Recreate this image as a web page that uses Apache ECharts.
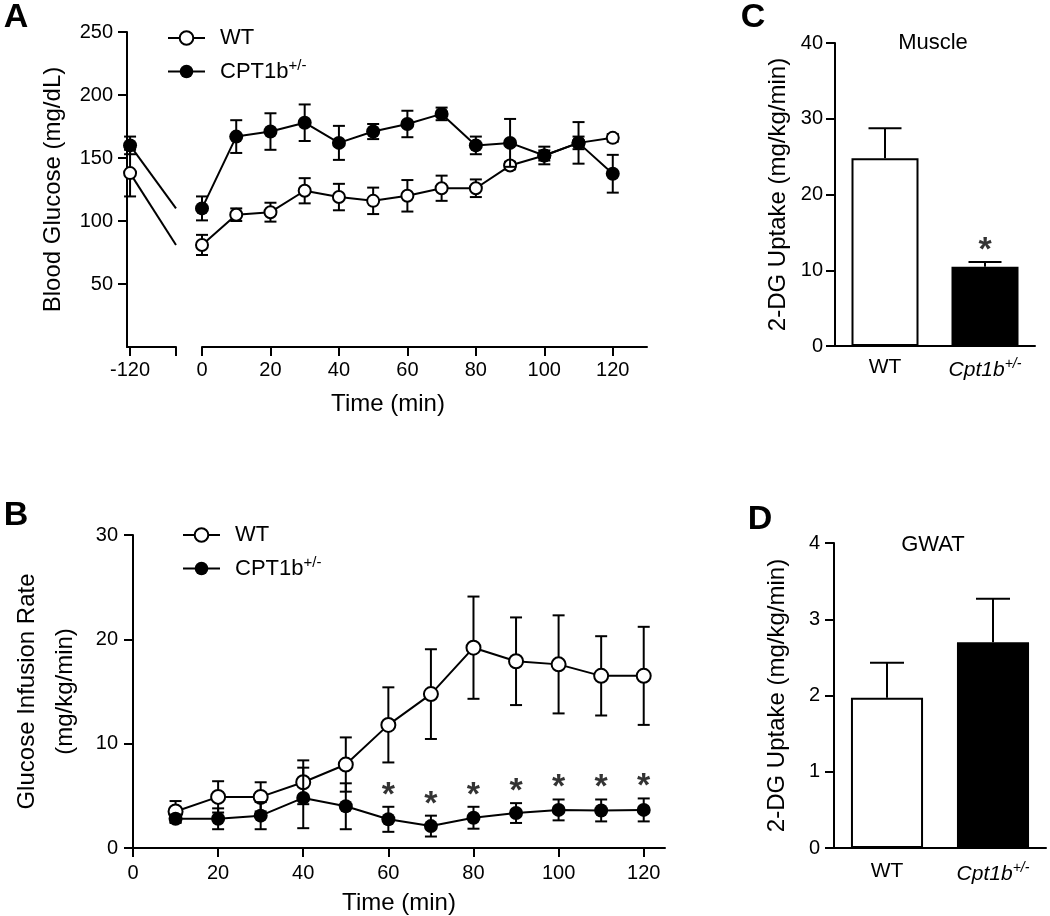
<!DOCTYPE html>
<html>
<head>
<meta charset="utf-8">
<script src="https://cdn.jsdelivr.net/npm/echarts@6/dist/echarts.min.js"></script>
<style>html,body{margin:0;padding:0;background:#fff}#c{width:1050px;height:916px}</style>
</head>
<body>
<div id="c"></div>
<script>
// ---------- Panel A: Blood glucose ----------
const timesA   = [-120, 0, 10, 20, 30, 40, 50, 60, 70, 80, 90, 100, 110, 120];
const wtA      = [138, 81, 105, 107, 124, 119, 116, 120, 126, 126, 144, 152, 162, 166];
const wtSemA   = [18.5, 8, 5, 7.5, 10, 10.5, 10.5, 12.5, 10, 7, 3, 4, 5, 3];
const cptA     = [160, 110, 167, 171, 178, 162, 171, 177, 185, 160, 162, 152, 162, 137.5];
const cptSemA  = [7, 9.5, 13, 14.5, 14.5, 13.5, 6, 10.5, 5, 7, 19, 7, 16.5, 15];
const ticksAx  = [0, 20, 40, 60, 80, 100, 120];
const ticksAxLeft = [-120];
const ticksAy  = [50, 100, 150, 200, 250];

// ---------- Panel B: Glucose infusion rate ----------
const timesB   = [10, 20, 30, 40, 50, 60, 70, 80, 90, 100, 110, 120];
const wtB      = [3.5, 4.9, 4.9, 6.3, 8.0, 11.8, 14.75, 19.2, 17.9, 17.6, 16.5, 16.5];
const wtSemB   = [1.0, 1.5, 1.4, 2.1, 2.6, 3.6, 4.3, 4.9, 4.2, 4.7, 3.8, 4.7];
const cptB     = [2.8, 2.8, 3.1, 4.8, 4.0, 2.75, 2.1, 2.9, 3.35, 3.65, 3.6, 3.65];
const cptSemB  = [0.4, 1.0, 1.3, 2.9, 2.2, 1.2, 1.0, 1.05, 0.95, 1.0, 1.05, 1.1];
const sigB     = [60, 70, 80, 90, 100, 110, 120];
const ticksBx  = [0, 20, 40, 60, 80, 100, 120];

// ---------- Panels C & D: 2-DG uptake ----------
const catsCD   = ['WT', 'Cpt1b+/-'];
const muscleC  = [24.8, 10.45];
const muscleSemC = [3.95, 0.65];
const sigC     = ['Cpt1b+/-'];
const gwatD    = [1.97, 2.70];
const gwatSemD = [0.46, 0.57];

const seriesNames = ['WT', 'CPT1b+/-'];

// ---------- helpers ----------
const FONT = '"Liberation Sans", Arial, Helvetica, sans-serif';
const BLACK = '#000';
const LS = {color: BLACK, width: 2};

function errData(xs, m, s) { return xs.map((x, i) => [x, m[i] - s[i], m[i] + s[i]]); }
function errBar(capHalf, upperOnly) {
  return function (params, api) {
    const x = api.value(0);
    const lo = api.coord([x, api.value(1)]);
    const hi = api.coord([x, api.value(2)]);
    const style = {stroke: BLACK, lineWidth: 2, fill: null};
    const ch = [
      {type: 'line', shape: {x1: hi[0], y1: hi[1], x2: lo[0], y2: lo[1]}, style},
      {type: 'line', shape: {x1: hi[0] - capHalf, y1: hi[1], x2: hi[0] + capHalf, y2: hi[1]}, style}
    ];
    if (!upperOnly) ch.push({type: 'line', shape: {x1: lo[0] - capHalf, y1: lo[1], x2: lo[0] + capHalf, y2: lo[1]}, style});
    return {type: 'group', children: ch};
  };
}
const openItem = {color: '#fff', borderColor: BLACK, borderWidth: 2};
const fillItem = {color: BLACK, borderColor: BLACK, borderWidth: 0};
const tickLabel = {color: BLACK, fontSize: 20, fontFamily: FONT};
const nameStyle = {color: BLACK, fontSize: 24, fontFamily: FONT};
const starLabel = {show: true, formatter: '*', position: 'top', distance: -6, fontSize: 34, fontWeight: 'bold', color: BLACK, fontFamily: FONT};

function supFmt(name) {
  return name.indexOf('+/-') >= 0 ? name.replace('+/-', '') + '{sup|+/-}' : name;
}
function catFmt(name) {
  return name.indexOf('+/-') >= 0 ? '{it|' + name.replace('+/-', '') + '}{sup|+/-}' : name;
}
const catRich = {it: {fontStyle: 'italic', fontSize: 21, color: BLACK, fontFamily: FONT},
                 sup: {fontStyle: 'italic', fontSize: 14, color: BLACK, fontFamily: FONT, padding: [0, 0, 12, 0]}};

const chart = echarts.init(document.getElementById('c'), null, {renderer: 'canvas'});

const option = {
  animation: false,
  backgroundColor: '#fff',
  textStyle: {fontFamily: FONT, color: BLACK},
  grid: [
    {left: 127, top: 32, width: 49, height: 315},
    {left: 202, top: 32, width: 445, height: 315},
    {left: 133, top: 535, width: 532, height: 313},
    {left: 835, top: 43, width: 200, height: 303},
    {left: 834, top: 543, width: 212, height: 305}
  ],
  legend: [
    {data: seriesNames, left: 162, top: 22, orient: 'vertical', itemWidth: 37, itemHeight: 17, itemGap: 9,
     selectedMode: false, formatter: supFmt,
     textStyle: {fontSize: 22, color: BLACK, fontFamily: FONT, padding: [0, 0, 0, 10],
                 rich: {sup: {fontSize: 15, color: BLACK, fontFamily: FONT, padding: [0, 0, 12, 0]}}}},
    {data: seriesNames, left: 177, top: 519, orient: 'vertical', itemWidth: 37, itemHeight: 17, itemGap: 9,
     selectedMode: false, formatter: supFmt,
     textStyle: {fontSize: 22, color: BLACK, fontFamily: FONT, padding: [0, 0, 0, 10],
                 rich: {sup: {fontSize: 15, color: BLACK, fontFamily: FONT, padding: [0, 0, 12, 0]}}}}
  ],
  xAxis: [
    {gridIndex: 0, type: 'value', min: -128, max: 0,
     axisLine: {onZero: false, lineStyle: LS},
     axisTick: {length: 9, lineStyle: LS, customValues: [-120, 0]},
     axisLabel: Object.assign({margin: 13, customValues: ticksAxLeft}, tickLabel),
     splitLine: {show: false}},
    {gridIndex: 1, type: 'value', min: 0, max: 130, interval: 20,
     axisLine: {onZero: false, lineStyle: LS},
     axisTick: {length: 9, lineStyle: LS, customValues: ticksAx},
     axisLabel: Object.assign({margin: 13, customValues: ticksAx}, tickLabel),
     splitLine: {show: false}},
    {gridIndex: 2, type: 'value', min: 0, max: 125, interval: 20,
     name: 'Time (min)', nameLocation: 'middle', nameGap: 43, nameTextStyle: nameStyle,
     axisLine: {onZero: false, lineStyle: LS},
     axisTick: {length: 9, lineStyle: LS, customValues: ticksBx},
     axisLabel: Object.assign({margin: 15, customValues: ticksBx}, tickLabel),
     splitLine: {show: false}},
    {gridIndex: 3, type: 'category', data: catsCD,
     axisLine: {onZero: false, lineStyle: LS},
     axisTick: {length: 9, lineStyle: LS, alignWithLabel: true},
     axisLabel: {interval: 0, margin: 11, fontSize: 21, color: BLACK, fontFamily: FONT, formatter: catFmt, rich: catRich}},
    {gridIndex: 4, type: 'category', data: catsCD,
     axisLine: {onZero: false, lineStyle: LS},
     axisTick: {length: 9, lineStyle: LS, alignWithLabel: true},
     axisLabel: {interval: 0, margin: 13, fontSize: 21, color: BLACK, fontFamily: FONT, formatter: catFmt, rich: catRich}}
  ],
  yAxis: [
    {gridIndex: 0, type: 'value', min: 0, max: 250, interval: 50,
     name: 'Blood Glucose (mg/dL)', nameLocation: 'middle', nameGap: 62, nameTextStyle: nameStyle,
     axisLine: {show: true, onZero: false, lineStyle: LS},
     axisTick: {show: true, length: 9, lineStyle: LS, customValues: ticksAy},
     axisLabel: Object.assign({margin: 14, customValues: ticksAy}, tickLabel),
     splitLine: {show: false}},
    {gridIndex: 1, type: 'value', min: 0, max: 250, interval: 50, show: false, splitLine: {show: false}},
    {gridIndex: 2, type: 'value', min: 0, max: 30, interval: 10,
     name: 'Glucose Infusion Rate\n(mg/kg/min)', nameLocation: 'middle', nameGap: 40,
     nameTextStyle: Object.assign({lineHeight: 38}, nameStyle),
     axisLine: {show: true, onZero: false, lineStyle: LS},
     axisTick: {show: true, length: 9, lineStyle: LS},
     axisLabel: Object.assign({margin: 15}, tickLabel),
     splitLine: {show: false}},
    {gridIndex: 3, type: 'value', min: 0, max: 40, interval: 10,
     name: '2-DG Uptake (mg/kg/min)', nameLocation: 'middle', nameGap: 45, nameTextStyle: nameStyle,
     axisLine: {show: true, onZero: false, lineStyle: LS},
     axisTick: {show: true, length: 9, lineStyle: LS},
     axisLabel: Object.assign({margin: 12}, tickLabel),
     splitLine: {show: false}},
    {gridIndex: 4, type: 'value', min: 0, max: 4, interval: 1,
     name: '2-DG Uptake (mg/kg/min)', nameLocation: 'middle', nameGap: 45, nameTextStyle: nameStyle,
     axisLine: {show: true, onZero: false, lineStyle: LS},
     axisTick: {show: true, length: 9, lineStyle: LS},
     axisLabel: Object.assign({margin: 14}, tickLabel),
     splitLine: {show: false}}
  ],
  series: [
    // ----- Panel A, left (-120) segment with break lines toward time 0 -----
    {name: 'WT-break', type: 'line', xAxisIndex: 0, yAxisIndex: 0,
     data: [{value: [timesA[0], wtA[0]]}, {value: [timesA[1], wtA[1]], symbol: 'none'}],
     symbol: 'circle', symbolSize: 12, itemStyle: openItem, lineStyle: LS, z: 3},
    {name: 'WT-err-left', type: 'custom', xAxisIndex: 0, yAxisIndex: 0,
     renderItem: errBar(6, false), data: errData(timesA.slice(0, 1), wtA, wtSemA), z: 2},
    {name: 'CPT-err-left', type: 'custom', xAxisIndex: 0, yAxisIndex: 0,
     renderItem: errBar(6, false), data: errData(timesA.slice(0, 1), cptA, cptSemA), z: 4},
    {name: 'CPT-break', type: 'line', xAxisIndex: 0, yAxisIndex: 0,
     data: [{value: [timesA[0], cptA[0]]}, {value: [timesA[1], cptA[1]], symbol: 'none'}],
     symbol: 'circle', symbolSize: 14, itemStyle: fillItem, lineStyle: LS, z: 5},
    // ----- Panel A, main segment -----
    {name: 'WT-err-A', type: 'custom', xAxisIndex: 1, yAxisIndex: 1,
     renderItem: errBar(6, false), data: errData(timesA.slice(1), wtA.slice(1), wtSemA.slice(1)), z: 2},
    {name: 'WT', type: 'line', xAxisIndex: 1, yAxisIndex: 1,
     data: timesA.slice(1).map((t, i) => [t, wtA[i + 1]]),
     symbol: 'circle', symbolSize: 12, itemStyle: openItem, lineStyle: LS, z: 3},
    {name: 'CPT-err-A', type: 'custom', xAxisIndex: 1, yAxisIndex: 1,
     renderItem: errBar(6, false), data: errData(timesA.slice(1), cptA.slice(1), cptSemA.slice(1)), z: 4},
    {name: 'CPT1b+/-', type: 'line', xAxisIndex: 1, yAxisIndex: 1,
     data: timesA.slice(1).map((t, i) => [t, cptA[i + 1]]),
     symbol: 'circle', symbolSize: 14, itemStyle: fillItem, lineStyle: LS, z: 5},
    // ----- Panel B -----
    {name: 'WT-err-B', type: 'custom', xAxisIndex: 2, yAxisIndex: 2,
     renderItem: errBar(6, false), data: errData(timesB, wtB, wtSemB), z: 2},
    {name: 'WT', type: 'line', xAxisIndex: 2, yAxisIndex: 2,
     data: timesB.map((t, i) => [t, wtB[i]]),
     symbol: 'circle', symbolSize: 14, itemStyle: openItem, lineStyle: LS, z: 3},
    {name: 'CPT-err-B', type: 'custom', xAxisIndex: 2, yAxisIndex: 2,
     renderItem: errBar(6, false), data: errData(timesB, cptB, cptSemB), z: 4},
    {name: 'CPT1b+/-', type: 'line', xAxisIndex: 2, yAxisIndex: 2,
     data: timesB.map((t, i) => [t, cptB[i]]),
     symbol: 'circle', symbolSize: 14, itemStyle: fillItem, lineStyle: LS, z: 5},
    {name: 'sigB', type: 'scatter', xAxisIndex: 2, yAxisIndex: 2,
     data: sigB.map(t => { const i = timesB.indexOf(t); return [t, cptB[i] + cptSemB[i]]; }),
     symbol: 'circle', symbolSize: 1, itemStyle: {color: 'rgba(0,0,0,0)'},
     label: starLabel, z: 6},
    // ----- Panel C -----
    {name: 'muscle', type: 'bar', xAxisIndex: 3, yAxisIndex: 3, barCategoryGap: '33%',
     data: muscleC.map((v, i) => ({value: v, itemStyle: i === 0 ? {color: '#fff'} : {color: BLACK}})),
     itemStyle: {borderColor: BLACK, borderWidth: 2}, z: 2},
    {name: 'muscle-err', type: 'custom', xAxisIndex: 3, yAxisIndex: 3,
     renderItem: errBar(16.5, true), data: muscleC.map((v, i) => [i, v, v + muscleSemC[i]]), z: 3},
    {name: 'sigC', type: 'scatter', xAxisIndex: 3, yAxisIndex: 3,
     data: sigC.map(c => { const i = catsCD.indexOf(c); return [i, muscleC[i] + muscleSemC[i]]; }),
     symbol: 'circle', symbolSize: 1, itemStyle: {color: 'rgba(0,0,0,0)'},
     label: starLabel, z: 6},
    // ----- Panel D -----
    {name: 'gwat', type: 'bar', xAxisIndex: 4, yAxisIndex: 4, barCategoryGap: '32%',
     data: gwatD.map((v, i) => ({value: v, itemStyle: i === 0 ? {color: '#fff'} : {color: BLACK}})),
     itemStyle: {borderColor: BLACK, borderWidth: 2}, z: 2},
    {name: 'gwat-err', type: 'custom', xAxisIndex: 4, yAxisIndex: 4,
     renderItem: errBar(17, true), data: gwatD.map((v, i) => [i, v, v + gwatSemD[i]]), z: 3}
  ],
  graphic: [
    {type: 'text', x: 16, y: 18, style: {text: 'A', font: 'bold 34px ' + FONT, fill: BLACK, textAlign: 'center', textVerticalAlign: 'middle'}},
    {type: 'text', x: 16, y: 516, style: {text: 'B', font: 'bold 34px ' + FONT, fill: BLACK, textAlign: 'center', textVerticalAlign: 'middle'}},
    {type: 'text', x: 753, y: 18, style: {text: 'C', font: 'bold 34px ' + FONT, fill: BLACK, textAlign: 'center', textVerticalAlign: 'middle'}},
    {type: 'text', x: 760, y: 520, style: {text: 'D', font: 'bold 34px ' + FONT, fill: BLACK, textAlign: 'center', textVerticalAlign: 'middle'}},
    {type: 'text', x: 388, y: 404, style: {text: 'Time (min)', font: '24px ' + FONT, fill: BLACK, textAlign: 'center', textVerticalAlign: 'middle'}},
    {type: 'text', x: 933, y: 43, style: {text: 'Muscle', font: '22px ' + FONT, fill: BLACK, textAlign: 'center', textVerticalAlign: 'middle'}},
    {type: 'text', x: 933, y: 545, style: {text: 'GWAT', font: '22px ' + FONT, fill: BLACK, textAlign: 'center', textVerticalAlign: 'middle'}}
  ]
};
chart.setOption(option);
</script>
</body>
</html>
